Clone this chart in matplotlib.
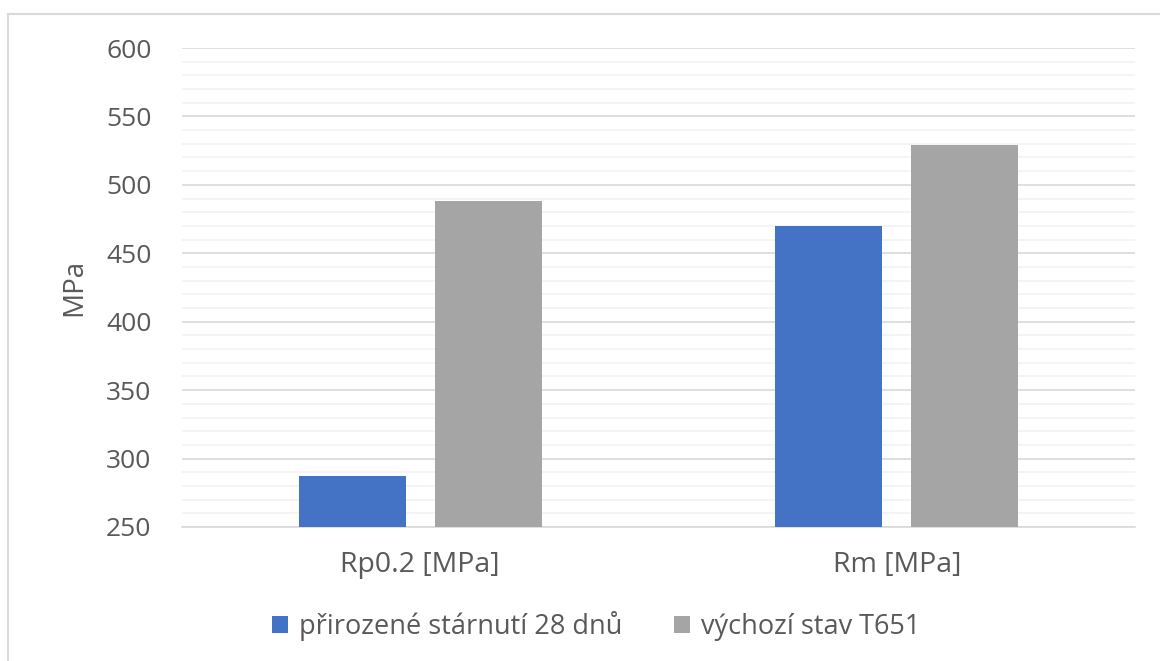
import matplotlib.pyplot as plt
import numpy as np
from matplotlib.patches import Patch
from matplotlib.lines import Line2D

plt.rcParams.update({
    "font.family": ["Open Sans", "DejaVu Sans"],
    "font.size": 18,
    "text.color": "#595959",
    "axes.labelcolor": "#595959",
    "xtick.color": "#595959",
    "ytick.color": "#595959",
})

# data
categories = ["Rp0.2 [MPa]", "Rm [MPa]"]
series_names = ["přirozené stárnutí 28 dnů", "výchozí stav T651"]
aged_vals = [287, 470]
t651_vals = [488, 529]

BLUE = "#4472C4"
GRAY = "#A5A5A5"

fig = plt.figure(figsize=(11.6, 6.61), dpi=100)
ax = fig.add_axes([182/1160, 1 - 527/661, (1135-182)/1160, (527-48)/661])

x = np.arange(len(categories))
bar_w = 0.225
off = 0.1425
ax.bar(x - off, np.array(aged_vals) - 250, bar_w, bottom=250, color=BLUE, zorder=3)
ax.bar(x + off, np.array(t651_vals) - 250, bar_w, bottom=250, color=GRAY, zorder=3)

ax.set_xlim(-0.5, 1.5)
ax.set_ylim(250, 600)
ax.set_yticks(np.arange(250, 601, 50))
ax.set_yticks(np.arange(250, 601, 10), minor=True)
ax.grid(which="major", axis="y", color="#D9D9D9", linewidth=1.2, zorder=0)
ax.grid(which="minor", axis="y", color="#F2F2F2", linewidth=1.2, zorder=0)
ax.set_axisbelow(True)

ax.set_xticks(x)
ax.set_xticklabels(categories, fontsize=20.5)
ax.tick_params(axis="x", length=0, pad=17)
ax.tick_params(axis="y", which="both", length=0, pad=22, labelsize=19)

for side in ("top", "right", "left"):
    ax.spines[side].set_visible(False)
ax.spines["bottom"].set_color("#D9D9D9")
ax.spines["bottom"].set_linewidth(1.2)

ax.set_ylabel("MPa", fontsize=20, labelpad=13)

handles = [Patch(facecolor=BLUE, label=series_names[0]),
           Patch(facecolor=GRAY, label=series_names[1])]
fig.legend(handles=handles, loc="center", bbox_to_anchor=(596/1160, 1 - 626/661),
           ncol=2, frameon=False, fontsize=19.5, handlelength=0.6, handleheight=0.6,
           handletextpad=0.4, columnspacing=1.9)

# chart border (top and left edges visible)
fig.add_artist(Line2D([8/1160, 1.0], [1 - 14/661] * 2, color="#D9D9D9", linewidth=1.5,
                      transform=fig.transFigure))
fig.add_artist(Line2D([8/1160] * 2, [0, 1 - 14/661], color="#D9D9D9", linewidth=1.5,
                      transform=fig.transFigure))

fig.savefig("out.png", dpi=100)
